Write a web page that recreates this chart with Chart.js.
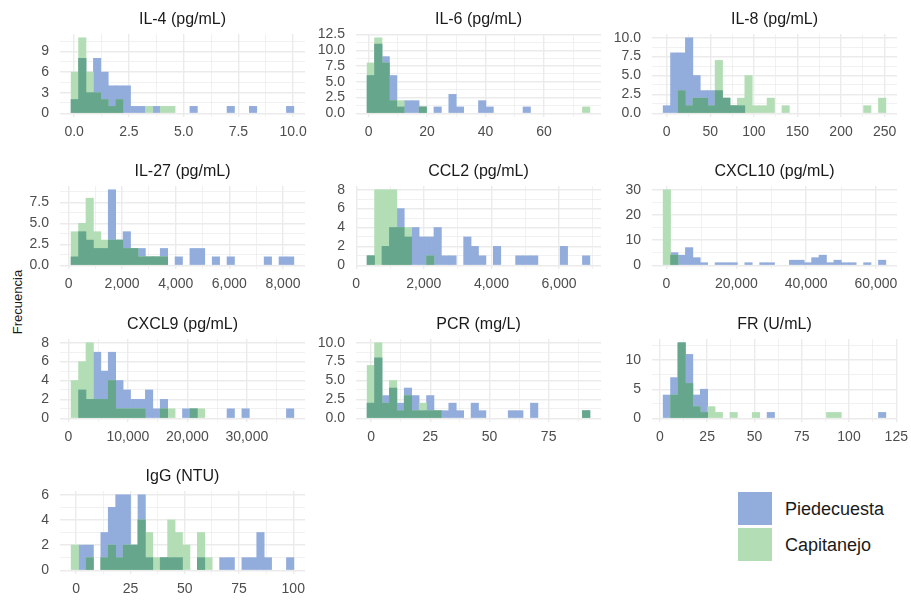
<!DOCTYPE html>
<html>
<head>
<meta charset="utf-8">
<script src="https://cdn.jsdelivr.net/npm/chart.js"></script>
<style>
	body { margin: 0; background: #fff; width: 911px; height: 604px; position: relative; overflow: hidden; font-family: "Liberation Sans", Arial, sans-serif; }
	canvas { position: absolute; }
	#ylab { position: absolute; left: 17px; top: 302px; transform: translate(-50%, -50%) rotate(-90deg); font-size: 13px; color: #1a1a1a; white-space: nowrap; }
	.key { position: absolute; left: 738px; width: 34px; height: 33px; }
	.keytxt { position: absolute; left: 785px; font-size: 18px; color: #1a1a1a; line-height: 20px; }
</style>
</head>
<body>
<div id="ylab">Frecuencia</div>
<div class="key" style="top:492px;background:#92acdc"></div>
<div class="keytxt" style="top:499px">Piedecuesta</div>
<div class="key" style="top:528px;background:#b3deb5"></div>
<div class="keytxt" style="top:535px">Capitanejo</div>
<script>
// grupos
var groups = ['Piedecuesta', 'Capitanejo'];

// histogramas: 30 intervalos por panel (centro del primer intervalo + ancho)
var il4Start = 0.033, il4Width = 0.339;
var il4Pied = [2,8,3,8,6,4,4,4,1,1,0,1,0,0,0,0,1,0,0,0,0,1,0,0,1,0,0,0,0,1];
var il4Capi = [6,11,6,3,2,1,2,0,0,0,1,0,1,1,0,0,0,0,0,0,0,0,0,0,0,0,0,0,0,0];
var il4XTicks = [0, 2.5, 5, 7.5, 10], il4XLabels = ['0.0','2.5','5.0','7.5','10.0'];
var il4YTicks = [0, 3, 6, 9], il4YLabels = ['0','3','6','9'];

var il6Start = 0.75, il6Width = 2.54;
var il6Pied = [6,11,9,6,1,2,2,1,0,1,0,3,1,0,0,2,1,0,0,0,0,1,0,0,0,0,0,0,0,0];
var il6Capi = [8,12,8,2,2,0,0,1,0,0,0,0,0,0,0,0,0,0,0,0,0,0,0,0,0,0,0,0,0,1];
var il6XTicks = [0, 20, 40, 60], il6XLabels = ['0','20','40','60'];
var il6YTicks = [0, 2.5, 5, 7.5, 10, 12.5], il6YLabels = ['0.0','2.5','5.0','7.5','10.0','12.5'];

var il8Start = 0.1, il8Width = 8.52;
var il8Pied = [1,8,8,10,5,3,3,3,2,1,1,0,0,0,0,0,0,0,0,0,0,0,0,0,0,0,0,0,0,0];
var il8Capi = [0,0,3,1,2,2,1,7,2,1,2,5,1,1,2,0,1,0,0,0,0,0,0,0,0,0,0,1,0,2];
var il8XTicks = [0, 50, 100, 150, 200, 250], il8XLabels = ['0','50','100','150','200','250'];
var il8YTicks = [0, 2.5, 5, 7.5, 10], il8YLabels = ['0.0','2.5','5.0','7.5','10.0'];

var il27Start = 236, il27Width = 277;
var il27Pied = [1,4,3,2,2,9,3,4,2,2,1,1,2,0,1,0,2,2,0,1,0,1,0,0,0,0,1,0,1,1];
var il27Capi = [4,5,8,4,3,3,3,2,2,1,1,1,1,0,0,0,0,0,0,0,0,0,0,0,0,0,0,0,0,0];
var il27XTicks = [0, 2000, 4000, 6000, 8000], il27XLabels = ['0','2,000','4,000','6,000','8,000'];
var il27YTicks = [0, 2.5, 5, 7.5], il27YLabels = ['0.0','2.5','5.0','7.5'];

var ccl2Start = 433, ccl2Width = 219.6;
var ccl2Pied = [1,0,2,4,6,3,4,3,3,4,1,1,0,3,2,1,0,2,0,0,1,1,1,0,0,0,2,0,0,1];
var ccl2Capi = [1,8,8,8,4,4,0,0,1,0,0,0,0,0,0,0,0,0,0,0,0,0,0,0,0,0,0,0,0,0];
var ccl2XTicks = [0, 2000, 4000, 6000], ccl2XLabels = ['0','2,000','4,000','6,000'];
var ccl2YTicks = [0, 2, 4, 6, 8], ccl2YLabels = ['0','2','4','6','8'];

var cxcl10Start = 100, cxcl10Width = 2127;
var cxcl10Pied = [0,5,4,7,3,1,0,1,1,1,0,1,0,1,1,0,0,2,2,1,3,4,1,2,1,1,0,1,0,2];
var cxcl10Capi = [30,4,0,0,0,0,0,0,0,0,0,0,0,0,0,0,0,0,0,0,0,0,0,0,0,0,0,0,0,0];
var cxcl10XTicks = [0, 20000, 40000, 60000], cxcl10XLabels = ['0','20,000','40,000','60,000'];
var cxcl10YTicks = [0, 10, 20, 30], cxcl10YLabels = ['0','10','20','30'];

var cxcl9Start = 1070, cxcl9Width = 1249;
var cxcl9Pied = [0,3,2,7,5,7,4,3,2,2,3,1,2,0,0,1,1,0,0,0,0,1,0,1,0,0,0,0,0,1];
var cxcl9Capi = [4,6,8,2,2,4,1,1,1,1,0,0,1,1,0,0,1,1,0,0,0,0,0,0,0,0,0,0,0,0];
var cxcl9XTicks = [0, 10000, 20000, 30000], cxcl9XLabels = ['0','10,000','20,000','30,000'];
var cxcl9YTicks = [0, 2, 4, 6, 8], cxcl9YLabels = ['0','2','4','6','8'];

var pcrStart = -0.1, pcrWidth = 3.136;
var pcrPied = [2,8,3,4,2,4,3,1,3,1,1,2,1,0,2,1,0,0,0,1,1,0,2,0,0,0,0,0,0,1];
var pcrCapi = [7,10,2,5,1,3,1,2,1,1,0,0,0,0,0,0,0,0,0,0,0,0,0,0,0,0,0,0,0,1];
var pcrXTicks = [0, 25, 50, 75], pcrXLabels = ['0','25','50','75'];
var pcrYTicks = [0, 2.5, 5, 7.5, 10], pcrYLabels = ['0.0','2.5','5.0','7.5','10.0'];

var frStart = 3.7, frWidth = 3.925;
var frPied = [4,7,13,11,4,5,0,0,0,0,0,0,0,0,1,0,0,0,0,0,0,0,0,0,0,0,0,0,0,1];
var frCapi = [0,4,13,6,2,1,2,1,0,1,0,0,1,0,0,0,0,0,0,0,0,0,1,1,0,0,0,0,0,0];
var frXTicks = [0, 25, 50, 75, 100, 125], frXLabels = ['0','25','50','75','100','125'];
var frYTicks = [0, 5, 10], frYLabels = ['0','5','10'];

var iggStart = -0.6, iggWidth = 3.42;
var iggPied = [0,2,2,0,3,5,6,6,2,6,1,0,1,1,1,0,0,1,0,0,1,1,0,1,1,3,1,0,0,1];
var iggCapi = [2,0,1,0,1,2,1,2,2,4,3,1,1,4,3,2,0,3,1,0,0,0,0,0,0,0,0,0,0,0];
var iggXTicks = [0, 25, 50, 75, 100], iggXLabels = ['0','25','50','75','100'];
var iggYTicks = [0, 2, 4, 6], iggYLabels = ['0','2','4','6'];

var BLUE = '#92acdc', GREEN = '#b3deb5', TEAL = '#66a68c';
var FONT = '"Liberation Sans", Arial, sans-serif';

// titulo centrado sobre el area del panel
var panelTitle = {
	id: 'panelTitle',
	afterDraw: function(chart, args, opts) {
		var a = chart.chartArea, c = chart.ctx;
		c.save();
		c.font = '16px ' + FONT;
		c.fillStyle = '#1a1a1a';
		c.textAlign = 'center';
		c.textBaseline = 'alphabetic';
		c.fillText(opts.text, (a.left + a.right) / 2, a.top - 10.5);
		c.restore();
	}
};

// lineas mayores + menores (a mitad de paso) dentro de los limites
function gridValues(ticks, min, max) {
	var step = ticks[1] - ticks[0];
	var out = [];
	for (var k = -2; k <= (ticks.length - 1) * 2 + 2; k++) {
		var v = Math.round((ticks[0] + k * step / 2) * 1e6) / 1e6;
		if (v >= min && v <= max) out.push(v);
	}
	return out;
}

function maxOf(arr) {
	return Math.max.apply(null, arr);
}

// 0 -> null para que no se dibuje una raya en la base
function cnt(v) {
	return v > 0 ? v : null;
}

function drawPanel(title, start, width, pied, capi, xTicks, xLabels, yTicks, yLabels, left, top) {
	var n = pied.length;
	var dPied = [], dCapi = [], dBoth = [];
	for (var i = 0; i < n; i++) {
		var x = start + i * width;
		dPied.push({x: x, y: cnt(pied[i])});
		dCapi.push({x: x, y: cnt(capi[i])});
		dBoth.push({x: x, y: cnt(Math.min(pied[i], capi[i]))});
	}
	var lo = start - width / 2, hi = start + (n - 0.5) * width;
	var xmin = lo - 0.05 * (hi - lo), xmax = hi + 0.05 * (hi - lo);
	var top_ = Math.max(maxOf(pied), maxOf(capi));
	var ymin = -0.05 * top_, ymax = top_ * 1.05;

	var canvas = document.createElement('canvas');
	canvas.width = 321; canvas.height = 145;
	canvas.style.width = '321px'; canvas.style.height = '145px';
	canvas.style.left = (left - 50) + 'px';
	canvas.style.top = (top - 34) + 'px';
	document.body.appendChild(canvas);

	function gridOpts(ticks) {
		return {
			color: '#ebebeb',
			drawTicks: false,
			offset: false,
			lineWidth: function(ctx) {
				if (!ctx.tick) return 1;
				return ticks.indexOf(ctx.tick.value) >= 0 ? 1.4 : 0.7;
			}
		};
	}

	new Chart(canvas, {
		type: 'bar',
		data: {
			datasets: [
				{label: groups[0], data: dPied, backgroundColor: BLUE, order: 3},
				{label: groups[1], data: dCapi, backgroundColor: GREEN, order: 2},
				{label: 'ambos', data: dBoth, backgroundColor: TEAL, order: 1}
			]
		},
		options: {
			responsive: false,
			animation: false,
			layout: {padding: {top: 34, right: 26, left: 0, bottom: 0}},
			datasets: {bar: {grouped: false, barPercentage: 1, categoryPercentage: 1, borderWidth: 0}},
			plugins: {
				legend: {display: false},
				tooltip: {enabled: false},
				panelTitle: {text: title}
			},
			scales: {
				x: {
					type: 'linear',
					min: xmin, max: xmax,
					offset: false,
					border: {display: false},
					grid: gridOpts(xTicks),
					afterBuildTicks: function(axis) {
						axis.ticks = gridValues(xTicks, xmin, xmax).map(function(v) { return {value: v}; });
					},
					afterFit: function(axis) { axis.height = 28; },
					ticks: {
						autoSkip: false, maxRotation: 0, padding: 7,
						color: '#4d4d4d', font: {family: FONT, size: 14},
						callback: function(value) {
							var k = xTicks.indexOf(value);
							return k >= 0 ? xLabels[k] : '';
						}
					}
				},
				y: {
					min: ymin, max: ymax,
					border: {display: false},
					grid: gridOpts(yTicks),
					afterBuildTicks: function(axis) {
						axis.ticks = gridValues(yTicks, ymin, ymax).map(function(v) { return {value: v}; });
					},
					afterFit: function(axis) { axis.width = 50; },
					ticks: {
						autoSkip: false, padding: 11,
						color: '#4d4d4d', font: {family: FONT, size: 14},
						callback: function(value) {
							var k = yTicks.indexOf(value);
							return k >= 0 ? yLabels[k] : '';
						}
					}
				}
			}
		},
		plugins: [panelTitle]
	});
}

var colX = [60, 356, 652];
var rowY = [34, 186, 339, 491];

drawPanel('IL-4 (pg/mL)', il4Start, il4Width, il4Pied, il4Capi, il4XTicks, il4XLabels, il4YTicks, il4YLabels, colX[0], rowY[0]);
drawPanel('IL-6 (pg/mL)', il6Start, il6Width, il6Pied, il6Capi, il6XTicks, il6XLabels, il6YTicks, il6YLabels, colX[1], rowY[0]);
drawPanel('IL-8 (pg/mL)', il8Start, il8Width, il8Pied, il8Capi, il8XTicks, il8XLabels, il8YTicks, il8YLabels, colX[2], rowY[0]);
drawPanel('IL-27 (pg/mL)', il27Start, il27Width, il27Pied, il27Capi, il27XTicks, il27XLabels, il27YTicks, il27YLabels, colX[0], rowY[1]);
drawPanel('CCL2 (pg/mL)', ccl2Start, ccl2Width, ccl2Pied, ccl2Capi, ccl2XTicks, ccl2XLabels, ccl2YTicks, ccl2YLabels, colX[1], rowY[1]);
drawPanel('CXCL10 (pg/mL)', cxcl10Start, cxcl10Width, cxcl10Pied, cxcl10Capi, cxcl10XTicks, cxcl10XLabels, cxcl10YTicks, cxcl10YLabels, colX[2], rowY[1]);
drawPanel('CXCL9 (pg/mL)', cxcl9Start, cxcl9Width, cxcl9Pied, cxcl9Capi, cxcl9XTicks, cxcl9XLabels, cxcl9YTicks, cxcl9YLabels, colX[0], rowY[2]);
drawPanel('PCR (mg/L)', pcrStart, pcrWidth, pcrPied, pcrCapi, pcrXTicks, pcrXLabels, pcrYTicks, pcrYLabels, colX[1], rowY[2]);
drawPanel('FR (U/mL)', frStart, frWidth, frPied, frCapi, frXTicks, frXLabels, frYTicks, frYLabels, colX[2], rowY[2]);
drawPanel('IgG (NTU)', iggStart, iggWidth, iggPied, iggCapi, iggXTicks, iggXLabels, iggYTicks, iggYLabels, colX[0], rowY[3]);
</script>
</body>
</html>
